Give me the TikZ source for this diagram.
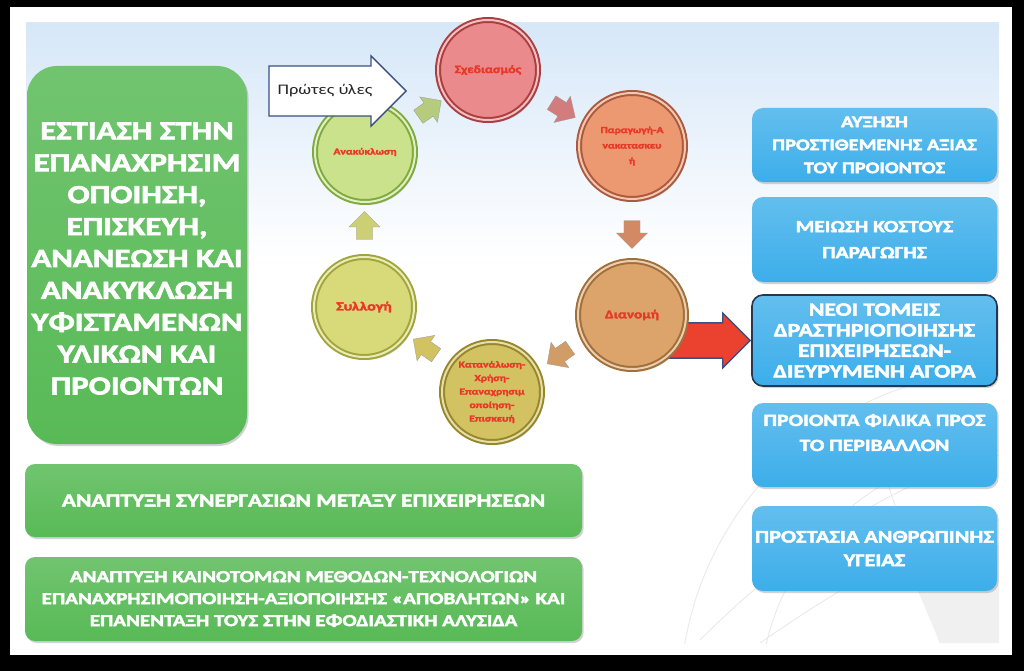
\documentclass[tikz,border=0pt]{standalone}
\usepackage{fontspec}
\setmainfont{Carlito}[BoldFont={Carlito Bold}, BoldFeatures={FakeBold=2.6}, FakeStretch=1.26]
\usetikzlibrary{positioning,calc,shapes.arrows,shadows}

\definecolor{slidebg}{RGB}{214,231,248}
\definecolor{boxgreen}{RGB}{88,186,86}
\definecolor{boxblue}{RGB}{60,174,234}
\definecolor{navyedge}{RGB}{40,55,80}
\definecolor{cycletext}{RGB}{234,56,40}
\definecolor{arrowedge}{RGB}{58,80,130}
\definecolor{bigarrow}{RGB}{234,66,46}
\definecolor{planfill}{RGB}{234,138,140}
\definecolor{planrim}{RGB}{170,62,64}
\definecolor{makefill}{RGB}{236,152,112}
\definecolor{makerim}{RGB}{170,90,62}
\definecolor{distrfill}{RGB}{220,164,106}
\definecolor{distrrim}{RGB}{160,112,60}
\definecolor{usefill}{RGB}{210,194,98}
\definecolor{userim}{RGB}{150,135,45}
\definecolor{collectfill}{RGB}{216,218,122}
\definecolor{collectrim}{RGB}{160,165,60}
\definecolor{recyclefill}{RGB}{202,226,140}
\definecolor{recyclerim}{RGB}{128,170,64}

\begin{document}
\begin{tikzpicture}[
  x=1pt, y=-1pt,
  greenbox/.style={draw=none, top color=boxgreen!85!white, bottom color=boxgreen,
    rounded corners=10pt, align=center, text=white, inner sep=4pt,
    drop shadow={shadow xshift=1.5pt, shadow yshift=-2pt, opacity=0.35}},
  bluebox/.style={top color=boxblue!80!white, bottom color=boxblue,
    rounded corners=11pt, align=center, text=white,
    minimum width=245pt, inner sep=3pt,
    font=\bfseries\fontsize{17.7}{23.5}\selectfont,
    drop shadow={shadow xshift=1.5pt, shadow yshift=-2pt, opacity=0.35}},
  stage/.style={circle, minimum size=100pt, inner sep=0pt, align=center,
    text=cycletext, line width=2pt, double distance=2pt,
    font=\bfseries\fontsize{10}{12.5}\selectfont,
    drop shadow={shadow xshift=2pt, shadow yshift=-3pt, opacity=0.3}},
  flow/.style={single arrow, minimum height=28pt, minimum width=31pt,
    inner xsep=0pt, inner ysep=7.5pt, draw=white!60!black,
    line width=0.3pt},
  globe/.style={draw=gray!18, line width=0.8pt}
]
\useasboundingbox (0,0) rectangle (1024,671);

% slide frame
\fill[black] (0,0) rectangle (1024,671);
\fill[white] (10,7) rectangle (1012,655);
\shade[top color=slidebg, bottom color=white] (26,23) rectangle (999,260);
\begin{scope}
  \clip (26,23) rectangle (999,643);
  \draw[globe] (1010,700) circle[radius=330];
  \draw[globe] (1010,700) circle[radius=250];
  \draw[globe] (700,640) .. controls (820,520) and (930,470) .. (999,455);
  \draw[globe] (760,643) .. controls (880,560) and (950,530) .. (999,520);
  \draw[globe] (880,460) -- (940,643);
  \fill[gray!12] (940,643) -- (905,560) -- (999,545) -- (999,643) -- cycle;
\end{scope}

% left column
\node[greenbox, rounded corners=30pt, minimum width=220pt, minimum height=378pt,
  font=\bfseries\fontsize{26}{31.9}\selectfont] (focus) at (137,255)
  {\rule{0pt}{24pt}ΕΣΤΙΑΣΗ ΣΤΗΝ\\ΕΠΑΝΑΧΡΗΣΙΜ\\ΟΠΟΙΗΣΗ,\\ΕΠΙΣΚΕΥΗ,\\ΑΝΑΝΕΩΣΗ ΚΑΙ\\ΑΝΑΚΥΚΛΩΣΗ\\ΥΦΙΣΤΑΜΕΝΩΝ\\ΥΛΙΚΩΝ ΚΑΙ\\ΠΡΟΙΟΝΤΩΝ};

\node[greenbox, minimum width=557pt, minimum height=73pt,
  font=\bfseries\fontsize{18.6}{22}\selectfont] (synergy) at (303.5,500.5)
  {ΑΝΑΠΤΥΞΗ ΣΥΝΕΡΓΑΣΙΩΝ ΜΕΤΑΞΥ ΕΠΙΧΕΙΡΗΣΕΩΝ};
\node[greenbox, minimum width=557pt, minimum height=84pt,
  font=\bfseries\fontsize{16.7}{22}\selectfont] (methods) at (303.5,599)
  {ΑΝΑΠΤΥΞΗ ΚΑΙΝΟΤΟΜΩΝ ΜΕΘΟΔΩΝ-ΤΕΧΝΟΛΟΓΙΩΝ\\
   ΕΠΑΝΑΧΡΗΣΙΜΟΠΟΙΗΣΗ-ΑΞΙΟΠΟΙΗΣΗΣ «ΑΠΟΒΛΗΤΩΝ» ΚΑΙ\\
   ΕΠΑΝΕΝΤΑΞΗ ΤΟΥΣ ΣΤΗΝ ΕΦΟΔΙΑΣΤΙΚΗ ΑΛΥΣΙΔΑ};

% right column
\node[bluebox, minimum height=74pt,
  font=\bfseries\fontsize{16.2}{23}\selectfont] (value) at (874.5,145)
  {ΑΥΞΗΣΗ\\ΠΡΟΣΤΙΘΕΜΕΝΗΣ ΑΞΙΑΣ\\ΤΟΥ ΠΡΟΙΟΝΤΟΣ};
\node[bluebox, minimum height=85pt,
  font=\bfseries\fontsize{16.9}{26}\selectfont] (cost) at (874.5,239.5)
  {ΜΕΙΩΣΗ ΚΟΣΤΟΥΣ\\ΠΑΡΑΓΩΓΗΣ};
\node[bluebox, minimum height=91pt, draw=navyedge, line width=1.6pt,
  font=\bfseries\fontsize{18.8}{20.6}\selectfont] (markets) at (874.5,340.5)
  {ΝΕΟΙ ΤΟΜΕΙΣ\\ΔΡΑΣΤΗΡΙΟΠΟΙΗΣΗΣ\\ΕΠΙΧΕΙΡΗΣΕΩΝ-\\ΔΙΕΥΡΥΜΕΝΗ ΑΓΟΡΑ};
\node[bluebox, minimum height=84pt,
  font=\bfseries\fontsize{17.1}{25}\selectfont] (eco) at (874.5,445)
  {ΠΡΟΙΟΝΤΑ ΦΙΛΙΚΑ ΠΡΟΣ\\ΤΟ ΠΕΡΙΒΑΛΛΟΝ\\\mbox{}};
\node[bluebox, minimum height=85pt] (health) at (874.5,548.5)
  {ΠΡΟΣΤΑΣΙΑ ΑΝΘΡΩΠΙΝΗΣ\\ΥΓΕΙΑΣ};

\node[single arrow, fill=bigarrow, draw=arrowedge, line width=1.4pt,
  minimum height=92pt, minimum width=55pt, inner xsep=0pt, inner ysep=12pt,
  anchor=tip] (outlet) at (markets.west) {};

% cycle
\node[stage, fill=planfill, draw=planrim, double=planfill!55!white,
  font=\bfseries\fontsize{11}{14}\selectfont] (plan) at (488,70) {Σχεδιασμός};
\node[stage, fill=makefill, draw=makerim, double=makefill!55!white, minimum size=106pt,
  font=\bfseries\fontsize{9.2}{15.5}\selectfont] (make) at (632,146) {Παραγωγή-Α\\νακατασκευ\\ή};
\node[stage, fill=distrfill, draw=distrrim, double=distrfill!55!white, minimum size=108pt,
  font=\bfseries\fontsize{12}{15}\selectfont] (distr) at (632,315) {Διανομή};
\node[stage, fill=usefill, draw=userim, double=usefill!55!white,
  font=\bfseries\fontsize{9.2}{13.5}\selectfont] (consume) at (492,392)
  {Κατανάλωση-\\Χρήση-\\Επαναχρησιμ\\οποίηση-\\Επισκευή};
\node[stage, fill=collectfill, draw=collectrim, double=collectfill!55!white,
  font=\bfseries\fontsize{12.5}{15}\selectfont] (collect) at (364,307) {Συλλογή};
\node[stage, fill=recyclefill, draw=recyclerim, double=recyclefill!55!white,
  font=\bfseries\fontsize{9.2}{12}\selectfont] (recycle) at (365,152) {Ανακύκλωση};

\node[flow, fill=planfill!90!black, rotate=-32] (a1) at ($(plan)!0.5!(make)$) {};
\node[flow, fill=makefill!90!black, rotate=-90] (a2) at ($(make)!0.5!(distr)$) {};
\node[flow, fill=distrfill!95!black, rotate=-145] (a3) at ($(distr)!0.5!(consume)$) {};
\node[flow, fill=usefill, rotate=145] (a4) at ($(consume)!0.5!(collect)$) {};
\node[flow, fill=collectfill!95!black, rotate=90] (a5) at ($(collect)!0.5!(recycle)$) {};
\node[flow, fill=recyclefill!90!black, rotate=35] (a6) at ($(recycle)!0.5!(plan)$) {};

\node[single arrow, fill=white, draw=arrowedge, line width=1.4pt,
  minimum height=137pt, minimum width=70pt, inner xsep=2pt, inner ysep=10pt,
  text height=10.5pt, text depth=3.5pt, anchor=tip,
  font=\fontsize{14.6}{17}\selectfont, text=black!85]
  (input) at (407,91) {Πρώτες ύλες\hspace{18pt}};

\end{tikzpicture}
\end{document}
